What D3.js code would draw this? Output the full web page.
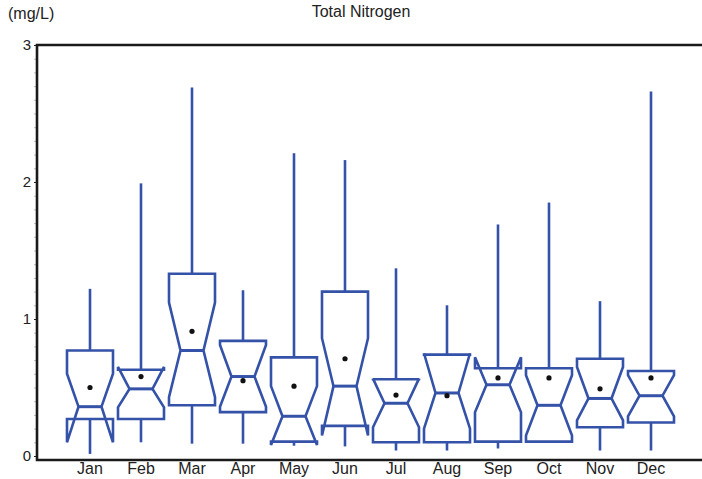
<!DOCTYPE html>
<html>
<head>
<meta charset="utf-8">
<script src="https://cdn.jsdelivr.net/npm/d3@7"></script>
<style>
  body { margin: 0; background: #fff; }
  svg text { font-family: "Liberation Sans", Arial, sans-serif; fill: #222; }
</style>
</head>
<body>
<div id="chart"></div>
<script>
// monthly total nitrogen (mg/L)
var months   = ["Jan","Feb","Mar","Apr","May","Jun","Jul","Aug","Sep","Oct","Nov","Dec"];
var minVal   = [0.015, 0.10, 0.09, 0.09, 0.075, 0.07, 0.04, 0.04, 0.055, 0.095, 0.04, 0.04];
var q1       = [0.27, 0.27, 0.37, 0.32, 0.105, 0.22, 0.10, 0.10, 0.105, 0.105, 0.21, 0.245];
var notchLo  = [0.10, 0.355, 0.43, 0.36, 0.08, 0.15, 0.21, 0.20, 0.32, 0.15, 0.26, 0.29];
var median   = [0.36, 0.49, 0.77, 0.58, 0.29, 0.51, 0.385, 0.46, 0.52, 0.37, 0.42, 0.44];
var notchHi  = [0.60, 0.65, 1.12, 0.81, 0.51, 0.86, 0.565, 0.75, 0.72, 0.59, 0.65, 0.59];
var q3       = [0.77, 0.63, 1.33, 0.84, 0.72, 1.20, 0.56, 0.74, 0.64, 0.64, 0.71, 0.62];
var maxVal   = [1.22, 1.99, 2.69, 1.21, 2.21, 2.16, 1.37, 1.10, 1.69, 1.85, 1.13, 2.66];
var meanVal  = [0.50, 0.58, 0.91, 0.55, 0.51, 0.71, 0.445, 0.44, 0.57, 0.57, 0.49, 0.57];
var yTicks   = [0, 1, 2, 3];

var W = 702, H = 479;
var plotLeft = 37, plotRight = 702, plotTop = 45, plotBottom = 460;
var blue = "#3452a8";

var svg = d3.select("#chart").append("svg")
  .attr("width", W).attr("height", H);

var x = d3.scaleBand().domain(months).range([64.5, 676.5]).padding(0);
var y = d3.scaleLinear().domain([0, 3]).range([456, 45]);

var boxes = months.map(function(m, i){
  return {m: m, min: minVal[i], q1: q1[i], nlo: notchLo[i], med: median[i],
          nhi: notchHi[i], q3: q3[i], max: maxVal[i], mean: meanVal[i]};
});

// title and unit
svg.append("text")
  .attr("x", 361).attr("y", 16.5)
  .attr("text-anchor", "middle")
  .attr("font-size", 16)
  .text("Total Nitrogen");

svg.append("text")
  .attr("x", 8).attr("y", 19)
  .attr("font-size", 16)
  .text("(mg/L)");

// minor ticks
svg.append("g")
  .attr("transform", "translate(" + plotLeft + ",0)")
  .call(d3.axisLeft(y).tickValues(d3.range(0, 3.001, 0.1)).tickSize(3).tickFormat(""))
  .call(function(g){
    g.select(".domain").remove();
    g.selectAll("line").attr("stroke", "#aaa").attr("stroke-width", 0.8);
  });

// major ticks
svg.append("g")
  .attr("transform", "translate(" + plotLeft + ",0)")
  .call(d3.axisLeft(y).tickValues(yTicks).tickSize(3).tickPadding(3).tickFormat(d3.format("d")))
  .call(function(g){
    g.select(".domain").remove();
    g.selectAll("line").attr("stroke", "#222");
    g.selectAll("text").attr("font-size", 15).style("font-family", "Liberation Sans, Arial, sans-serif").attr("fill", "#222");
  });

// frame: left, top, bottom
svg.append("path")
  .attr("d", "M" + plotRight + "," + plotTop + "H" + plotLeft + "V" + plotBottom + "H" + plotRight)
  .attr("fill", "none")
  .attr("stroke", "#1a1a1a")
  .attr("stroke-width", 2.6);

// month labels
svg.append("g")
  .attr("transform", "translate(0," + plotBottom + ")")
  .call(d3.axisBottom(x).tickSize(0).tickPadding(3))
  .call(function(g){
    g.select(".domain").remove();
    g.selectAll("text").attr("font-size", 16).style("font-family", "Liberation Sans, Arial, sans-serif").attr("fill", "#222");
  });

var bw = 46, nw = 23;

var g = svg.append("g").selectAll("g").data(boxes).join("g")
  .attr("transform", function(d){ return "translate(" + (x(d.m) + x.bandwidth() / 2) + ",0)"; });

// whiskers
g.append("line")
  .attr("y1", function(d){ return y(d.q3); })
  .attr("y2", function(d){ return y(d.max); })
  .attr("stroke", blue).attr("stroke-width", 2.6);

g.append("line")
  .attr("y1", function(d){ return y(d.q1); })
  .attr("y2", function(d){ return y(d.min); })
  .attr("stroke", blue).attr("stroke-width", 2.6);

// notched box
g.append("path")
  .attr("d", function(d){
    var l = -bw / 2, r = bw / 2, nl = -nw / 2, nr = nw / 2;
    var pts = [[l, y(d.q1)], [l, y(d.nlo)], [nl, y(d.med)], [l, y(d.nhi)], [l, y(d.q3)],
               [r, y(d.q3)], [r, y(d.nhi)], [nr, y(d.med)], [r, y(d.nlo)], [r, y(d.q1)]];
    return d3.line()(pts) + "Z";
  })
  .attr("fill", "none")
  .attr("stroke", blue)
  .attr("stroke-width", 2.6)
  .attr("stroke-linejoin", "miter");

// median
g.append("line")
  .attr("x1", -nw / 2).attr("x2", nw / 2)
  .attr("y1", function(d){ return y(d.med); })
  .attr("y2", function(d){ return y(d.med); })
  .attr("stroke", blue).attr("stroke-width", 3);

// mean
g.append("circle")
  .attr("cy", function(d){ return y(d.mean); })
  .attr("r", 2.6)
  .attr("fill", "#111");
</script>
</body>
</html>
